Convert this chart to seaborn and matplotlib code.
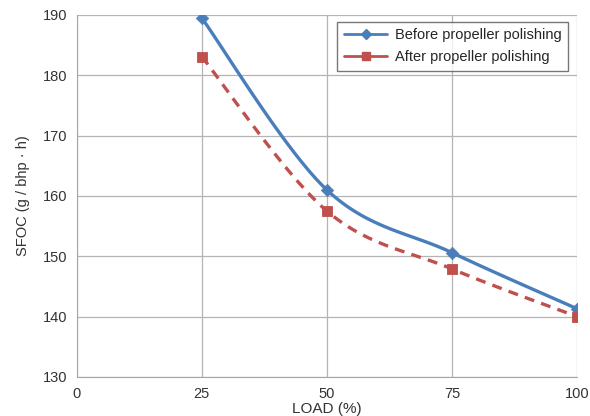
import numpy as np
import pandas as pd
import matplotlib
matplotlib.use("Agg")
import matplotlib.pyplot as plt
import seaborn as sns
from matplotlib.lines import Line2D

load = [25, 50, 75, 100]
before = [189.5, 161.0, 150.6, 141.3]
after = [183.1, 157.5, 147.9, 140.0]
series_names = ["Before propeller polishing", "After propeller polishing"]

sns.set_style("white")
plt.rcParams['font.family'] = ['Liberation Sans', 'DejaVu Sans']

def smooth(xs, ys, n=40):
    # Excel-like Catmull-Rom / Bezier smoothing through the data points
    x = np.asarray(xs, float); y = np.asarray(ys, float)
    px = np.concatenate([[x[0]], x, [x[-1]]])
    py = np.concatenate([[y[0]], y, [y[-1]]])
    ox, oy = [], []
    for i in range(1, len(px) - 2):
        p0 = np.array([px[i-1], py[i-1]]); p1 = np.array([px[i], py[i]])
        p2 = np.array([px[i+1], py[i+1]]); p3 = np.array([px[i+2], py[i+2]])
        c1 = p1 + (p2 - p0) / 6.0
        c2 = p2 - (p3 - p1) / 6.0
        t = np.linspace(0, 1, n)[:, None]
        b = (1-t)**3*p1 + 3*(1-t)**2*t*c1 + 3*(1-t)*t**2*c2 + t**3*p2
        ox.extend(b[:, 0]); oy.extend(b[:, 1])
    return np.array(ox), np.array(oy)

fig = plt.figure(figsize=(5.9, 4.16), dpi=100)
ax = fig.add_axes([0.13, 0.094, 0.848, 0.87])

blue = "#4A7EBB"
red = "#C0504D"

bx, by = smooth(load, before)
axx, ayy = smooth(load, after)
sns.lineplot(x=bx, y=by, ax=ax, color=blue, lw=2.4, sort=False, estimator=None)
sns.lineplot(x=axx, y=ayy, ax=ax, color=red, lw=2.4, sort=False, estimator=None,
             linestyle=(0, (3, 2.2)))
df = pd.DataFrame({"x": load, "before": before, "after": after})
sns.scatterplot(data=df, x="x", y="before", ax=ax, marker="D", s=40, color=blue,
                edgecolor=blue, zorder=5)
sns.scatterplot(data=df, x="x", y="after", ax=ax, marker="s", s=60, color=red,
                edgecolor=red, zorder=5)

ax.set_xlim(0, 100)
ax.set_ylim(130, 190)
ax.set_xticks([0, 25, 50, 75, 100])
ax.set_yticks(range(130, 191, 10))
ax.grid(True, color="#B4B4B4", lw=0.9)
ax.set_axisbelow(True)
for s in ["top", "right"]:
    ax.spines[s].set_visible(False)
for s in ["left", "bottom"]:
    ax.spines[s].set_color("#A6A6A6")
ax.tick_params(axis="both", length=0, labelsize=10.5, colors="#333333", pad=7)
ax.set_xlabel("LOAD (%)", fontsize=11, color="#333333", labelpad=1)
ax.set_ylabel("SFOC (g / bhp · h)", fontsize=10.5, color="#333333", labelpad=9)

handles = [Line2D([], [], color=blue, lw=2, marker="D", ms=5),
           Line2D([], [], color=red, lw=2, marker="s", ms=6)]
leg = ax.legend(handles, series_names, loc="upper right", bbox_to_anchor=(0.982, 0.981),
                borderaxespad=0, fontsize=10.5, frameon=True, fancybox=False,
                edgecolor="#555555", handlelength=3.0, borderpad=0.45,
                labelspacing=0.55, handletextpad=0.5)
leg.get_frame().set_linewidth(1.0)

fig.savefig("out.png", dpi=100)
